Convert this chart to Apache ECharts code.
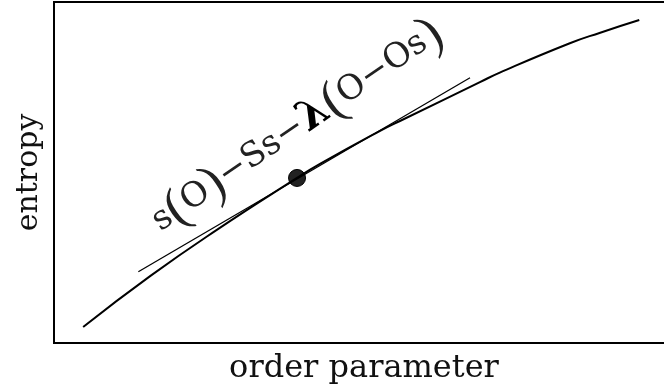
<!DOCTYPE html>
<html>
<head>
<meta charset="utf-8">
<script src="https://cdn.jsdelivr.net/npm/echarts@6/dist/echarts.min.js"></script>
<style>
  html, body { margin: 0; padding: 0; background: #fff; }
  #main { width: 664px; height: 390px; }
</style>
</head>
<body>
<div id="main"></div>
<script>
// curve s(O) (axis units 0..10)
var xCurve = [0.47, 1.55, 2.62, 3.92, 4.29, 5.26, 5.58, 6.87, 7.19, 8.32, 8.81, 9.44];
var yCurve = [0.47, 1.96, 3.31, 4.84, 5.25, 6.22, 6.51, 7.65, 7.93, 8.79, 9.10, 9.47];
// tangent line ends
var xTangent = [1.36, 6.71];
var yTangent = [2.09, 7.78];
// tangent point
var dotPoint = [3.92, 4.84];

var xName = 'order parameter';
var yName = 'entropy';

function pairs(xs, ys) {
    var out = [];
    for (var i = 0; i < xs.length; i++) {
        out.push([xs[i], ys[i]]);
    }
    return out;
}

var myChart = echarts.init(document.getElementById('main'));
var serif = '"DejaVu Serif", "Liberation Serif", serif';
var thinSerif = '"Liberation Serif", serif';

var option = {
    backgroundColor: '#fff',
    animation: false,
    grid: {
        left: 54, top: 2, width: 620, bottom: 47,
        outerBoundsMode: 'none',
        show: true, borderColor: '#000', borderWidth: 2, backgroundColor: 'transparent'
    },
    xAxis: {
        type: 'value', min: 0, max: 10,
        name: xName, nameLocation: 'middle', nameGap: 10,
        nameTextStyle: { fontFamily: serif, fontSize: 32, color: '#111' },
        axisLine: { show: false }, axisTick: { show: false },
        axisLabel: { show: false }, splitLine: { show: false }
    },
    yAxis: {
        type: 'value', min: 0, max: 10,
        name: yName, nameLocation: 'middle', nameGap: 10,
        nameTextStyle: { fontFamily: serif, fontSize: 30, color: '#111' },
        axisLine: { show: false }, axisTick: { show: false },
        axisLabel: { show: false }, splitLine: { show: false }
    },
    series: [
        {
            type: 'line',
            data: pairs(xCurve, yCurve),
            smooth: true,
            showSymbol: false,
            lineStyle: { color: '#000', width: 2 }
        },
        {
            type: 'line',
            data: pairs(xTangent, yTangent),
            showSymbol: false,
            lineStyle: { color: '#000', width: 1.3 }
        },
        {
            type: 'scatter',
            data: [dotPoint],
            symbolSize: 17,
            itemStyle: { color: '#222', borderColor: '#000', borderWidth: 1, opacity: 1 }
        }
    ],
    graphic: [
        {
            type: 'text',
            x: 297, y: 127,
            rotation: 34.5 * Math.PI / 180,
            style: {
                text: '{a|s}{p|(}{a|O}{p|)}{a|−Ss−}{l|λ}{p|(}{a|O−Os}{p|)}',
                align: 'center',
                verticalAlign: 'middle',
                rich: {
                    a: { fontFamily: serif, fontSize: 34, fill: '#222' },
                    p: { fontFamily: thinSerif, fontSize: 52, fill: '#222' },
                    l: { fontFamily: serif, fontSize: 42, fontWeight: 'bold', fill: '#000' }
                }
            }
        }
    ]
};

myChart.setOption(option);
</script>
</body>
</html>
